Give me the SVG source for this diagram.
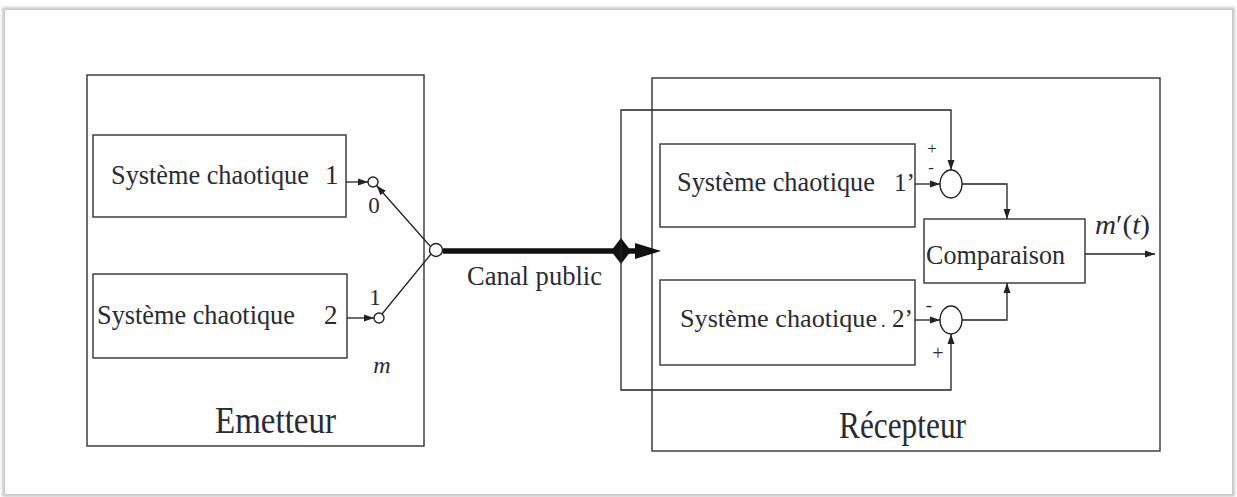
<svg xmlns="http://www.w3.org/2000/svg" width="1237" height="497" viewBox="0 0 1237 497">
<defs>
<marker id="ah" viewBox="0 0 10 10" refX="10" refY="5" markerWidth="10" markerHeight="10" markerUnits="userSpaceOnUse" orient="auto">
<path d="M0,1.5 L10,5 L0,8.5 Z" fill="#222"/>
</marker>
<filter id="sh" x="-5%" y="-5%" width="110%" height="110%">
<feGaussianBlur stdDeviation="1.5"/>
</filter>
</defs>
<style>
.box{fill:none;stroke:#333;stroke-width:1.4}
.ln{fill:none;stroke:#222;stroke-width:1.3}
.c{fill:#fff;stroke:#222;stroke-width:1.4}
.t{font-family:"Liberation Serif","DejaVu Serif",serif;fill:#2a2a35}
.it{font-style:italic}
</style>
<rect width="1237" height="497" fill="#fff"/>
<rect x="4" y="9" width="1229" height="486" fill="none" stroke="#bbb" stroke-width="3" filter="url(#sh)"/>
<rect x="4.5" y="9.5" width="1228" height="485" fill="#fff" stroke="#c8c8c8" stroke-width="1"/>

<g id="emetteur">
<rect class="box" x="87" y="75" width="337" height="371"/>
<text class="t" x="215" y="433" font-size="38" textLength="121" lengthAdjust="spacingAndGlyphs">Emetteur</text>
</g>
<g id="sys1">
<rect class="box" x="93" y="135" width="253" height="82"/>
<text class="t" x="111" y="184" font-size="26.3">Système chaotique</text>
<text class="t" x="325" y="184" font-size="27">1</text>
</g>
<g id="sys2">
<rect class="box" x="93" y="274" width="254" height="84"/>
<text class="t" x="97" y="324" font-size="26.3">Système chaotique</text>
<text class="t" x="324" y="324" font-size="27">2</text>
</g>
<g id="switch">
<circle class="c" cx="373" cy="182" r="5"/>
<circle class="c" cx="379" cy="318" r="5"/>
<circle class="c" cx="436" cy="250" r="6.5"/>
<text class="t" x="374" y="213" font-size="23" text-anchor="middle">0</text>
<text class="t" x="375" y="305" font-size="23" text-anchor="middle">1</text>
<text class="t it" x="382" y="373" font-size="24" text-anchor="middle">m</text>
</g>
<g id="recepteur">
<rect class="box" x="652" y="78" width="508" height="373"/>
<text class="t" x="839" y="438" font-size="38" textLength="127" lengthAdjust="spacingAndGlyphs">Récepteur</text>
</g>
<g id="sys1p">
<rect class="box" x="660" y="144" width="255" height="83"/>
<text class="t" x="677" y="191" font-size="26.3">Système chaotique</text>
<text class="t" x="894" y="191" font-size="25">1’</text>
</g>
<g id="sys2p">
<rect class="box" x="660" y="280" width="255" height="85"/>
<text class="t" x="680" y="327" font-size="26.2">Système chaotique</text>
<text class="t" x="881" y="327" font-size="18">.</text>
<text class="t" x="892" y="327" font-size="25">2’</text>
</g>
<g id="sum1">
<ellipse class="c" cx="951" cy="184" rx="11" ry="14"/>
<text class="t" x="932" y="154" font-size="17" text-anchor="middle">+</text>
<text class="t" x="931" y="173" font-size="17" text-anchor="middle">-</text>
</g>
<g id="sum2">
<ellipse class="c" cx="951" cy="320" rx="11" ry="14"/>
<text class="t" x="929" y="311" font-size="19" text-anchor="middle">-</text>
<text class="t" x="938" y="360" font-size="20" text-anchor="middle">+</text>
</g>
<g id="comparaison">
<rect class="box" x="924" y="219" width="161" height="64"/>
<text class="t" x="926" y="264" font-size="28" textLength="139" lengthAdjust="spacingAndGlyphs">Comparaison</text>
</g>
<g id="labels">
<text class="t" x="467" y="285" font-size="28" textLength="135" lengthAdjust="spacingAndGlyphs">Canal public</text>
<text class="t" x="1095" y="234" font-size="28" textLength="55" lengthAdjust="spacingAndGlyphs"><tspan class="it">m</tspan>′(<tspan class="it">t</tspan>)</text>
</g>

<g id="connectors">
<line class="ln" x1="346" y1="182" x2="368" y2="182" marker-end="url(#ah)"/>
<line class="ln" x1="347" y1="318" x2="374" y2="318" marker-end="url(#ah)"/>
<line class="ln" x1="430" y1="246" x2="376.5" y2="185.5" marker-end="url(#ah)"/>
<line class="ln" x1="382" y1="314" x2="431" y2="254"/>
<line x1="443" y1="251" x2="640" y2="251" stroke="#111" stroke-width="5.5"/>
<polygon points="621,238 631,251 621,264 611,251" fill="#111"/>
<polygon points="635,243 661,251 635,259" fill="#111"/>
<polyline class="ln" points="621,251 621,110 951,110 951,170" marker-end="url(#ah)"/>
<polyline class="ln" points="621,251 621,390 951,390 951,334" marker-end="url(#ah)"/>
<line class="ln" x1="915" y1="184" x2="940" y2="184" marker-end="url(#ah)"/>
<line class="ln" x1="915" y1="320" x2="940" y2="320" marker-end="url(#ah)"/>
<polyline class="ln" points="962,184 1007,184 1007,219" marker-end="url(#ah)"/>
<polyline class="ln" points="962,320 1007,320 1007,283" marker-end="url(#ah)"/>
<line class="ln" x1="1085" y1="254" x2="1155" y2="254" marker-end="url(#ah)"/>
</g>
</svg>
